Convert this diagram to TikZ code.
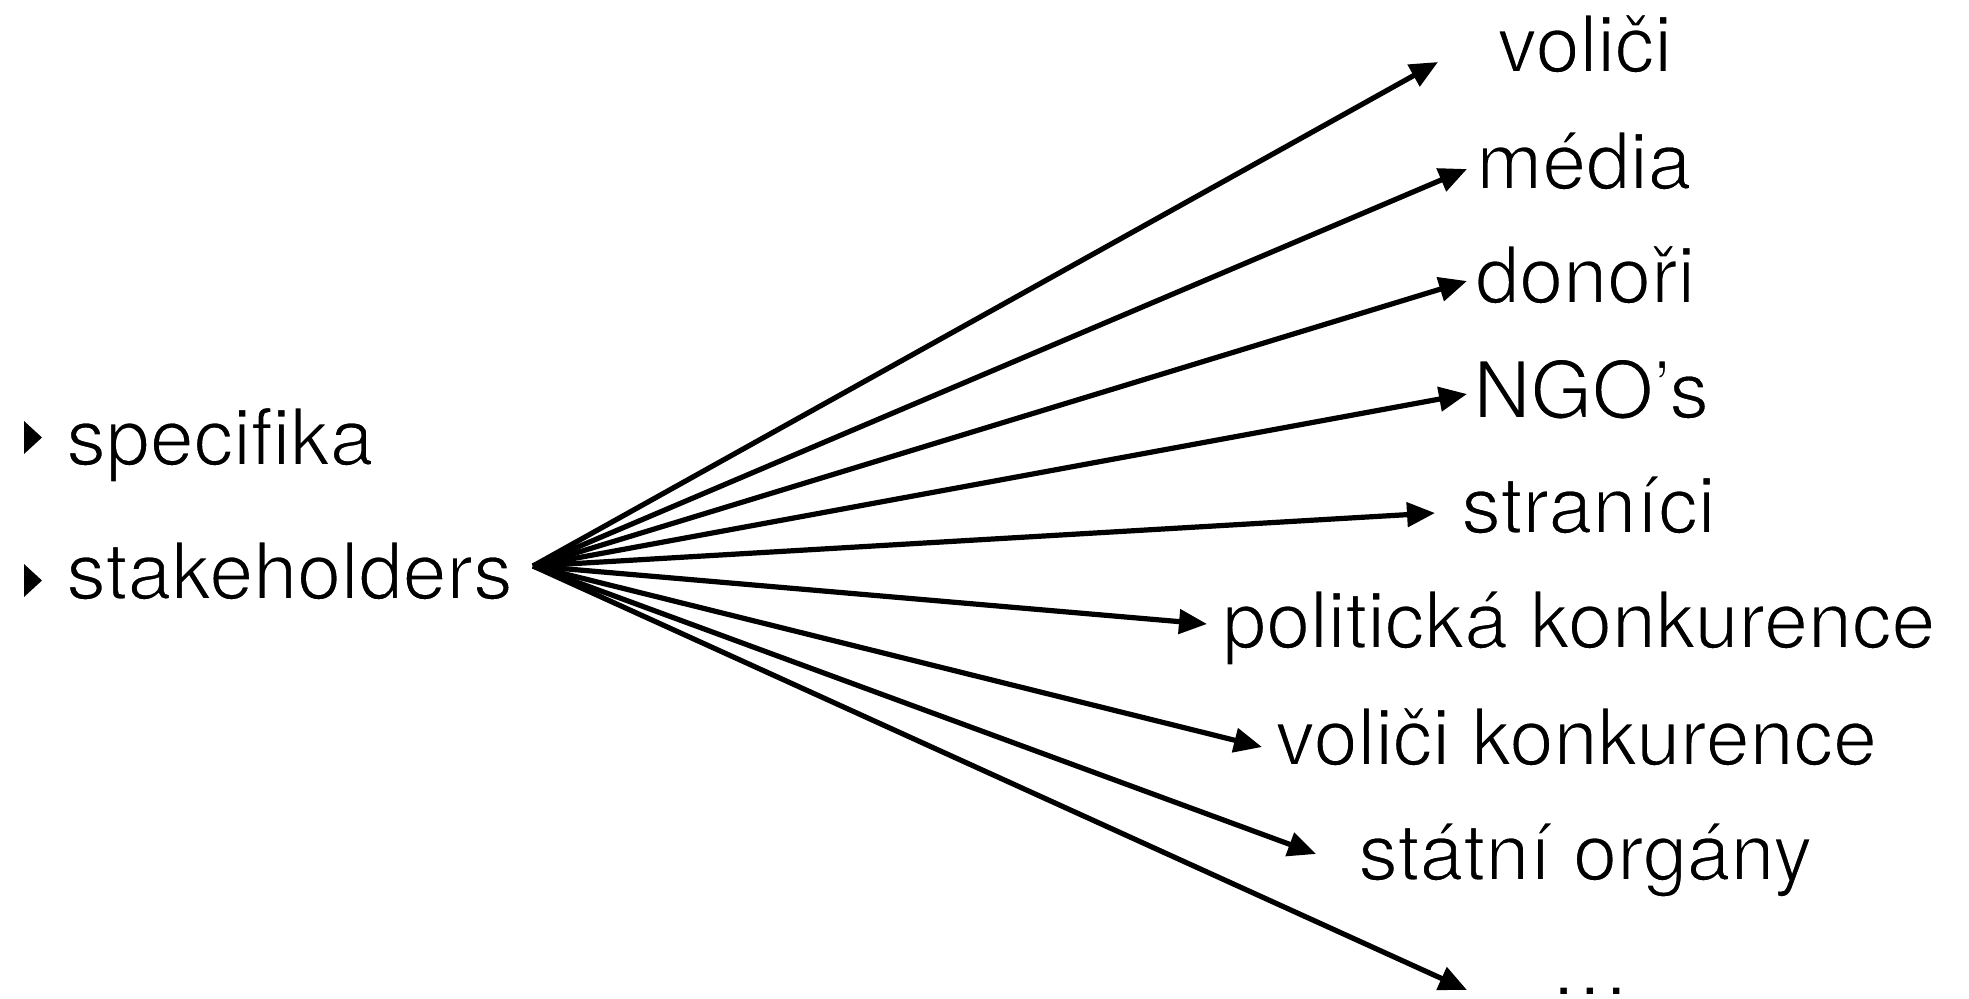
\documentclass[tikz,border=0pt]{standalone}
\usepackage{fontspec}
\setmainfont{TeX Gyre Heros}
\usetikzlibrary{arrows.meta}
\newcommand\lighttext[1]{\special{pdf:literal direct 2 Tr 1 1 1 RG 0.85 w}#1\special{pdf:literal direct 0 Tr 0 G 0.4 w}}
\begin{document}
\begin{tikzpicture}[x=0.5pt,y=-0.5pt,
  lbl/.style={anchor=base west, inner sep=0pt, font=\fontsize{39.5}{48}\selectfont},
  conn/.style={line width=2.6pt, -{Triangle[length=14pt,width=12pt]}},
  bulletmark/.style={fill=black}]
\useasboundingbox (0,0) rectangle (1969,998);
% left list
\node[lbl] (specifika) at (66,465) {\lighttext{specifika}};
\node[lbl] (stakeholders) at (66,599) {\lighttext{stakeholders}};
\fill[bulletmark] (24,421) -- (42,437.5) -- (24,454) -- cycle;
\fill[bulletmark] (24,564) -- (42,580.5) -- (24,597) -- cycle;
\coordinate (hub) at (533,566);
% targets
\node[lbl] (volici) at (1497,72) {\lighttext{voliči}};
\node[lbl] (media) at (1476,189) {\lighttext{média}};
\node[lbl] (donori) at (1475,303) {\lighttext{donoři}};
\node[lbl] (ngo) at (1473,418) {\lighttext{NGO’s}};
\node[lbl] (stranici) at (1461,533) {\lighttext{straníci}};
\node[lbl] (politicka) at (1222,648) {\lighttext{politická konkurence}};
\node[lbl] (volicik) at (1275,765) {\lighttext{voliči konkurence}};
\node[lbl] (statni) at (1358,880) {\lighttext{státní orgány}};
\node[lbl] (dots) at (1550,995) {\lighttext{…}};
% arrow tips
\coordinate (t1) at (1438,62);
\coordinate (t2) at (1467,169);
\coordinate (t3) at (1467,281);
\coordinate (t4) at (1467,394);
\coordinate (t5) at (1435,513);
\coordinate (t6) at (1207,624);
\coordinate (t7) at (1262,747);
\coordinate (t8) at (1316,854);
\coordinate (t9) at (1467,990);
\foreach \t in {t1,t2,t3,t4,t5,t6,t7,t8,t9}
  \draw[conn] (hub) -- (\t);
\end{tikzpicture}
\end{document}
